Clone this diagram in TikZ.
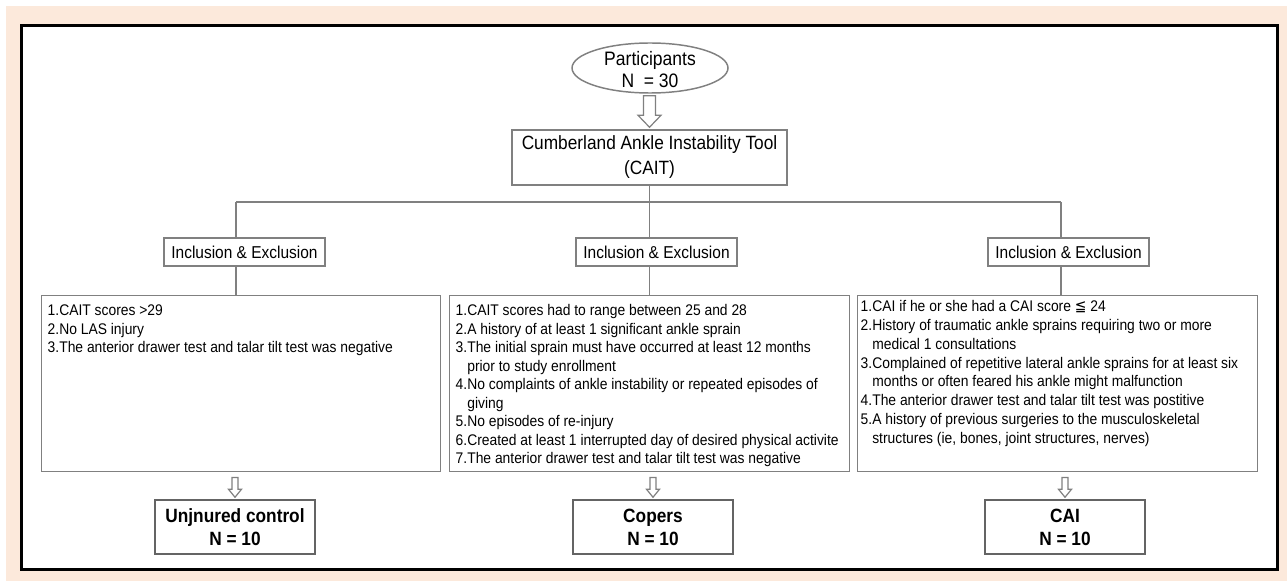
\documentclass[tikz,border=0pt]{standalone}
\usepackage{fontspec}
\setmainfont{Liberation Sans}[FakeStretch=0.9]
\newfontfamily\dejavu{DejaVu Sans}[FakeStretch=0.9]
\usetikzlibrary{calc,shapes.geometric}
\definecolor{peach}{RGB}{252,233,219}
\definecolor{lgray}{RGB}{128,128,128}
\definecolor{dgray}{RGB}{100,100,100}
\newcommand\hollowarr[5]{\draw[hollow] ($(#1)+(-#3,0)$) -- ($(#2)+(-#3,-#5)$) -- ($(#2)+(-#4,-#5)$) -- (#2) -- ($(#2)+(#4,-#5)$) -- ($(#2)+(#3,-#5)$) -- ($(#1)+(#3,0)$) -- cycle;}
\begin{document}
\begin{tikzpicture}[x=0.75pt,y=-0.75pt,
  box/.style={draw=lgray, line width=1.1pt, fill=white, inner sep=0pt},
  finbox/.style={draw=dgray, line width=1.1pt, fill=white, inner sep=0pt, minimum width=120pt, minimum height=40.5pt, align=center, font=\bfseries\fontsize{14.4}{17.25}\selectfont},
  incbox/.style={box, minimum width=120.75pt, minimum height=21pt, font=\fontsize{12.9}{14}\selectfont},
  detbox/.style={box, anchor=north west, inner xsep=4.5pt, inner ysep=0pt},
  conn/.style={draw=lgray, line width=1.1pt},
  hollow/.style={draw=lgray, line width=0.9pt, fill=white, line join=miter}]
\useasboundingbox (0,0) rectangle (1287,581);
\fill[white] (0,0) rectangle (1287,581);
\fill[peach] (6,6) rectangle (1287,581);
\draw[line width=2.25pt, fill=white] (21,26) rectangle (1277,569);

% top
\node[ellipse, draw=lgray, line width=1.1pt, fill=white, minimum width=117pt, minimum height=37.5pt, inner sep=0pt] (part) at (650,68)
  {\raisebox{-6.5pt}[0pt][0pt]{\fontsize{14.6}{16.5}\selectfont\begin{tabular}{@{}c@{}}Participants\\N \ = 30\end{tabular}}};
\node[box, minimum width=206.25pt, minimum height=41.25pt, align=center, font=\fontsize{14.4}{18.75}\selectfont] (cait) at (649.5,157.5)
  {Cumberland Ankle Instability Tool\\(CAIT)};

% inclusion boxes
\node[incbox] (inc1) at (244.5,252) {Inclusion \& Exclusion};
\node[incbox] (inc2) at (656.5,252) {Inclusion \& Exclusion};
\node[incbox] (inc3) at (1068.5,252) {Inclusion \& Exclusion};

% detail boxes
\node[detbox] (det1) at (41,295) {\parbox[c][132pt][t]{290.25pt}{\fontsize{11.55}{13.9}\selectfont\vspace{5.1pt}%
\begin{tabular}{@{}l@{}}
1.CAIT scores >29\\
2.No LAS injury\\
3.The anterior drawer test and talar tilt test was negative
\end{tabular}}};
\node[detbox] (det2) at (449,295) {\parbox[c][132pt][t]{291pt}{\fontsize{11.55}{13.9}\selectfont\vspace{5.1pt}%
\begin{tabular}{@{}l@{}}
1.CAIT scores had to range between 25 and 28\\
2.A history of at least 1 significant ankle sprain\\
3.The initial sprain must have occurred at least 12 months\\
\phantom{3.}prior to study enrollment\\
4.No complaints of ankle instability or repeated episodes of\\
\phantom{4.}giving\\
5.No episodes of re-injury\\
6.Created at least 1 interrupted day of desired physical activite\\
7.The anterior drawer test and talar tilt test was negative
\end{tabular}}};
\node[detbox, inner xsep=2.25pt] (det3) at (857,295) {\parbox[c][132pt][t]{295.5pt}{\fontsize{11.55}{14.1}\selectfont\vspace{2.1pt}%
\begin{tabular}{@{}l@{}}
1.CAI if he or she had a CAI score {\dejavu ≦} 24\\
2.History of traumatic ankle sprains requiring two or more\\
\phantom{2.}medical 1 consultations\\
3.Complained of repetitive lateral ankle sprains for at least six\\
\phantom{3.}months or often feared his ankle might malfunction\\
4.The anterior drawer test and talar tilt test was postitive\\
5.A history of previous surgeries to the musculoskeletal\\
\phantom{5.}structures (ie, bones, joint structures, nerves)
\end{tabular}}};

% final boxes
\node[finbox] (fin1) at (235,527) {Unjnured control\\N = 10};
\node[finbox] (fin2) at (653,527) {Copers\\N = 10};
\node[finbox] (fin3) at (1065,527) {CAI\\N = 10};

% connectors
\coordinate (hL) at (236,202);
\coordinate (hR) at (1061,202);
\draw[conn] (hL) -- (hR);
\draw[conn] (cait.south) -- (cait.south |- inc2.north);
\draw[conn] (cait.south |- inc2.south) -- (cait.south |- det2.north);
\draw[conn] (hL) -- (hL |- inc1.north);
\draw[conn] (hL |- inc1.south) -- (hL |- det1.north);
\draw[conn] (hR) -- (hR |- inc3.north);
\draw[conn] (hR |- inc3.south) -- (hR |- det3.north);

% hollow arrows
\coordinate (t1) at ($(part.south -| cait.north)+(0,2)$);
\coordinate (t2) at ($(cait.north)+(0,-2)$);
\hollowarr{t1}{t2}{6}{11.5}{12}
\coordinate (a1) at ($(det1.south -| fin1.north)+(0,5)$);
\coordinate (b1) at ($(fin1.north)+(0,-2)$);
\hollowarr{a1}{b1}{3}{6.5}{8}
\coordinate (a2) at ($(det2.south -| fin2.north)+(0,5)$);
\coordinate (b2) at ($(fin2.north)+(0,-2)$);
\hollowarr{a2}{b2}{3}{6.5}{8}
\coordinate (a3) at ($(det3.south -| fin3.north)+(0,5)$);
\coordinate (b3) at ($(fin3.north)+(0,-2)$);
\hollowarr{a3}{b3}{3}{6.5}{8}
\end{tikzpicture}
\end{document}
